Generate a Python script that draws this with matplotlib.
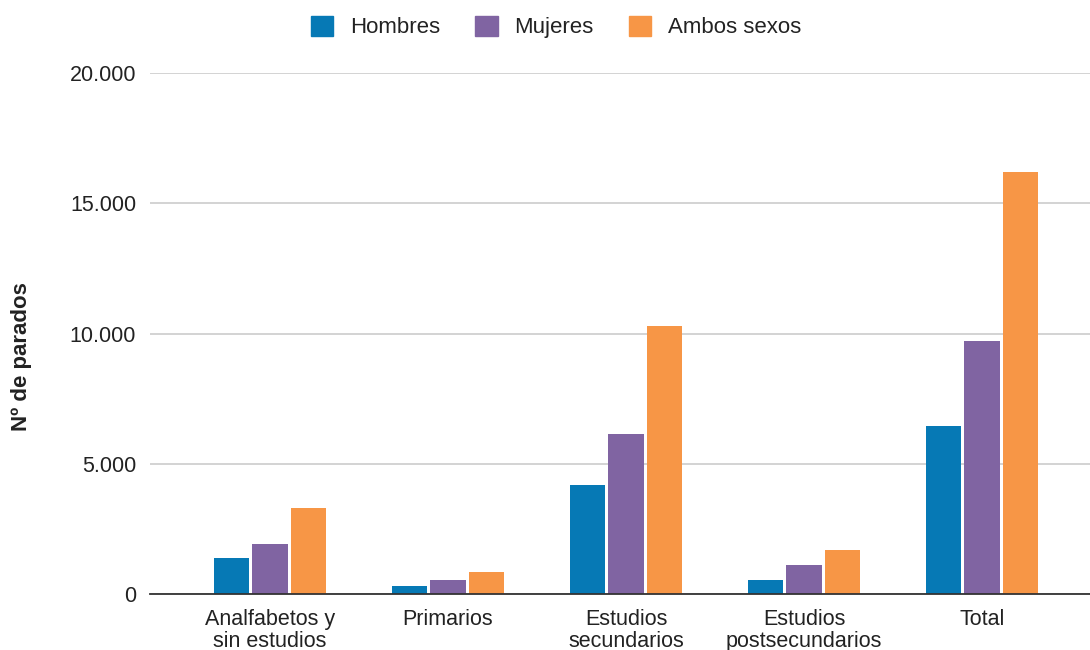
import matplotlib
matplotlib.use("Agg")
import matplotlib.pyplot as plt
from matplotlib.ticker import FuncFormatter
from matplotlib.patches import Patch
import numpy as np

categories = ["Analfabetos y\nsin estudios", "Primarios", "Estudios\nsecundarios",
              "Estudios\npostsecundarios", "Total"]
series_names = ["Hombres", "Mujeres", "Ambos sexos"]
hombres = [1390, 300, 4170, 520, 6430]
mujeres = [1920, 540, 6150, 1100, 9710]
ambos = [3290, 830, 10290, 1680, 16200]
colors = ["#0679b5", "#8064a2", "#f79646"]
yticks = [0, 5000, 10000, 15000, 20000]

plt.rcParams['font.family'] = ['Liberation Sans', 'DejaVu Sans']

W, H = 1090, 650
fig = plt.figure(figsize=(W / 100, H / 100), dpi=100)
left, right, top, bottom = 150, 1090, 73, 594
ax = fig.add_axes([left / W, 1 - bottom / H, (right - left) / W, (bottom - top) / H])

x = np.arange(len(categories))
step = 0.216
width = 0.197
for i, (vals, c, name) in enumerate(zip([hombres, mujeres, ambos], colors, series_names)):
    ax.bar(x + (i - 1) * step, vals, width=width, color=c, label=name, zorder=3)

ax.set_ylim(0, 20000)
ax.set_xlim((150 - 270) / 178, (1090 - 270) / 178)
ax.set_yticks(yticks)
ax.yaxis.set_major_formatter(FuncFormatter(lambda v, p: f"{int(v):,}".replace(",", ".")))
ax.grid(axis='y', color='#cccccc', linewidth=1.2, zorder=0)
ax.set_xticks(x)
ax.set_xticklabels(categories, fontsize=15.5, color='#222222', linespacing=1.05)
ax.tick_params(axis='x', length=0, pad=11)
ax.tick_params(axis='y', length=0, pad=10, labelsize=15.5, labelcolor='#222222')
for s in ['top', 'right', 'left']:
    ax.spines[s].set_visible(False)
ax.spines['bottom'].set_color('#333333')
ax.spines['bottom'].set_linewidth(1.3)
ax.spines['bottom'].set_zorder(4)

fig.text(22 / W, 1 - 357 / H, "Nº de parados", rotation=90, fontsize=16, fontweight='bold',
         ha='center', va='center', color='#222222')

handles = [Patch(facecolor=c, edgecolor=c, label=n) for c, n in zip(colors, series_names)]
fig.legend(handles=handles, loc='center', bbox_to_anchor=(556 / W, 1 - 27 / H), ncol=3,
           frameon=False, fontsize=16, handlelength=1.0, handleheight=1.0,
           handletextpad=0.75, columnspacing=1.6, labelcolor='#222222')

fig.savefig("out.png", dpi=100, facecolor='white')
